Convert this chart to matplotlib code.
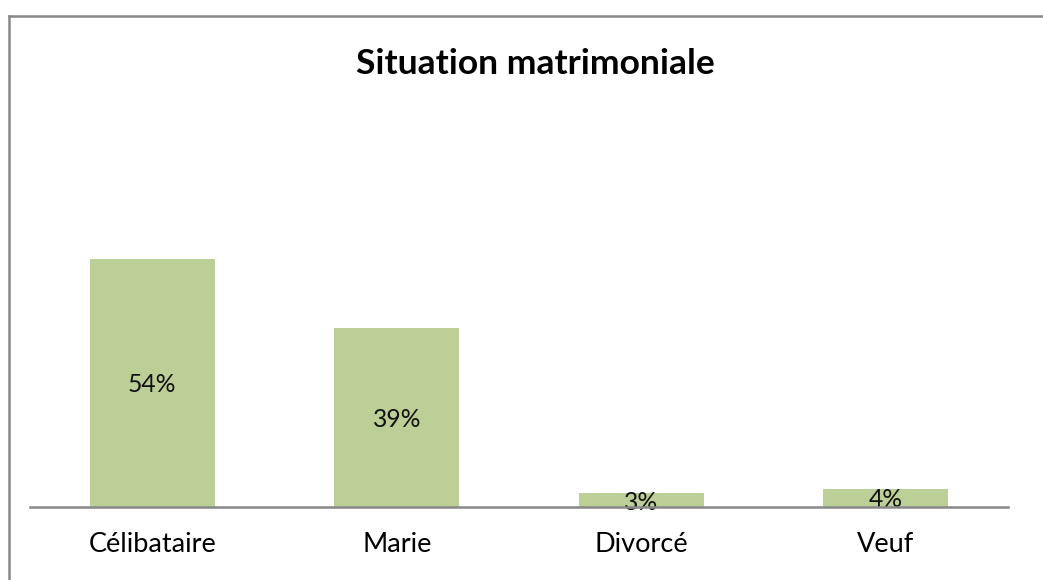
import matplotlib.pyplot as plt
from matplotlib.lines import Line2D

categories = ['Célibataire', 'Marie', 'Divorcé', 'Veuf']
values = [54, 39, 3, 4]
labels = ['54%', '39%', '3%', '4%']

plt.rcParams['font.family'] = ['Lato', 'DejaVu Sans']

W, H = 1043, 580
fig = plt.figure(figsize=(W / 100, H / 100), dpi=100)

# chart area border (only top and left visible)
fig.add_artist(Line2D([8.5 / W, 8.5 / W], [0, 1 - 15.5 / H], transform=fig.transFigure,
                      color='#888888', lw=1.8))
fig.add_artist(Line2D([8.5 / W, 1], [1 - 15.5 / H, 1 - 15.5 / H], transform=fig.transFigure,
                      color='#888888', lw=1.8))

left, right, bottom, top = 30, 1008, 507, 120
ax = fig.add_axes([left / W, 1 - bottom / H, (right - left) / W, (bottom - top) / H])

x = range(len(categories))
bars = ax.bar(x, values, width=0.51, color='#BBCF97', zorder=2)
for b, lab in zip(bars, labels):
    ax.text(b.get_x() + b.get_width() / 2, b.get_height() / 2, lab,
            ha='center', va='center_baseline', fontsize=17.8, color='#111111', zorder=3)

ax.set_xlim(-0.5, 3.5)
ax.set_ylim(0, (bottom - top) / 4.6)
ax.set_xticks(list(x))
ax.set_xticklabels(categories, fontsize=19.5)
ax.tick_params(axis='x', length=0, pad=18)
ax.set_yticks([])
for s in ['top', 'right', 'left']:
    ax.spines[s].set_visible(False)
ax.spines['bottom'].set_color('#888888')
ax.spines['bottom'].set_linewidth(1.8)
ax.spines['bottom'].set_zorder(4)

fig.text(535 / W, 1 - 64 / H, 'Situation matrimoniale', ha='center', va='center',
         fontsize=25.5, fontweight='bold')

fig.savefig('out.png', dpi=100)
